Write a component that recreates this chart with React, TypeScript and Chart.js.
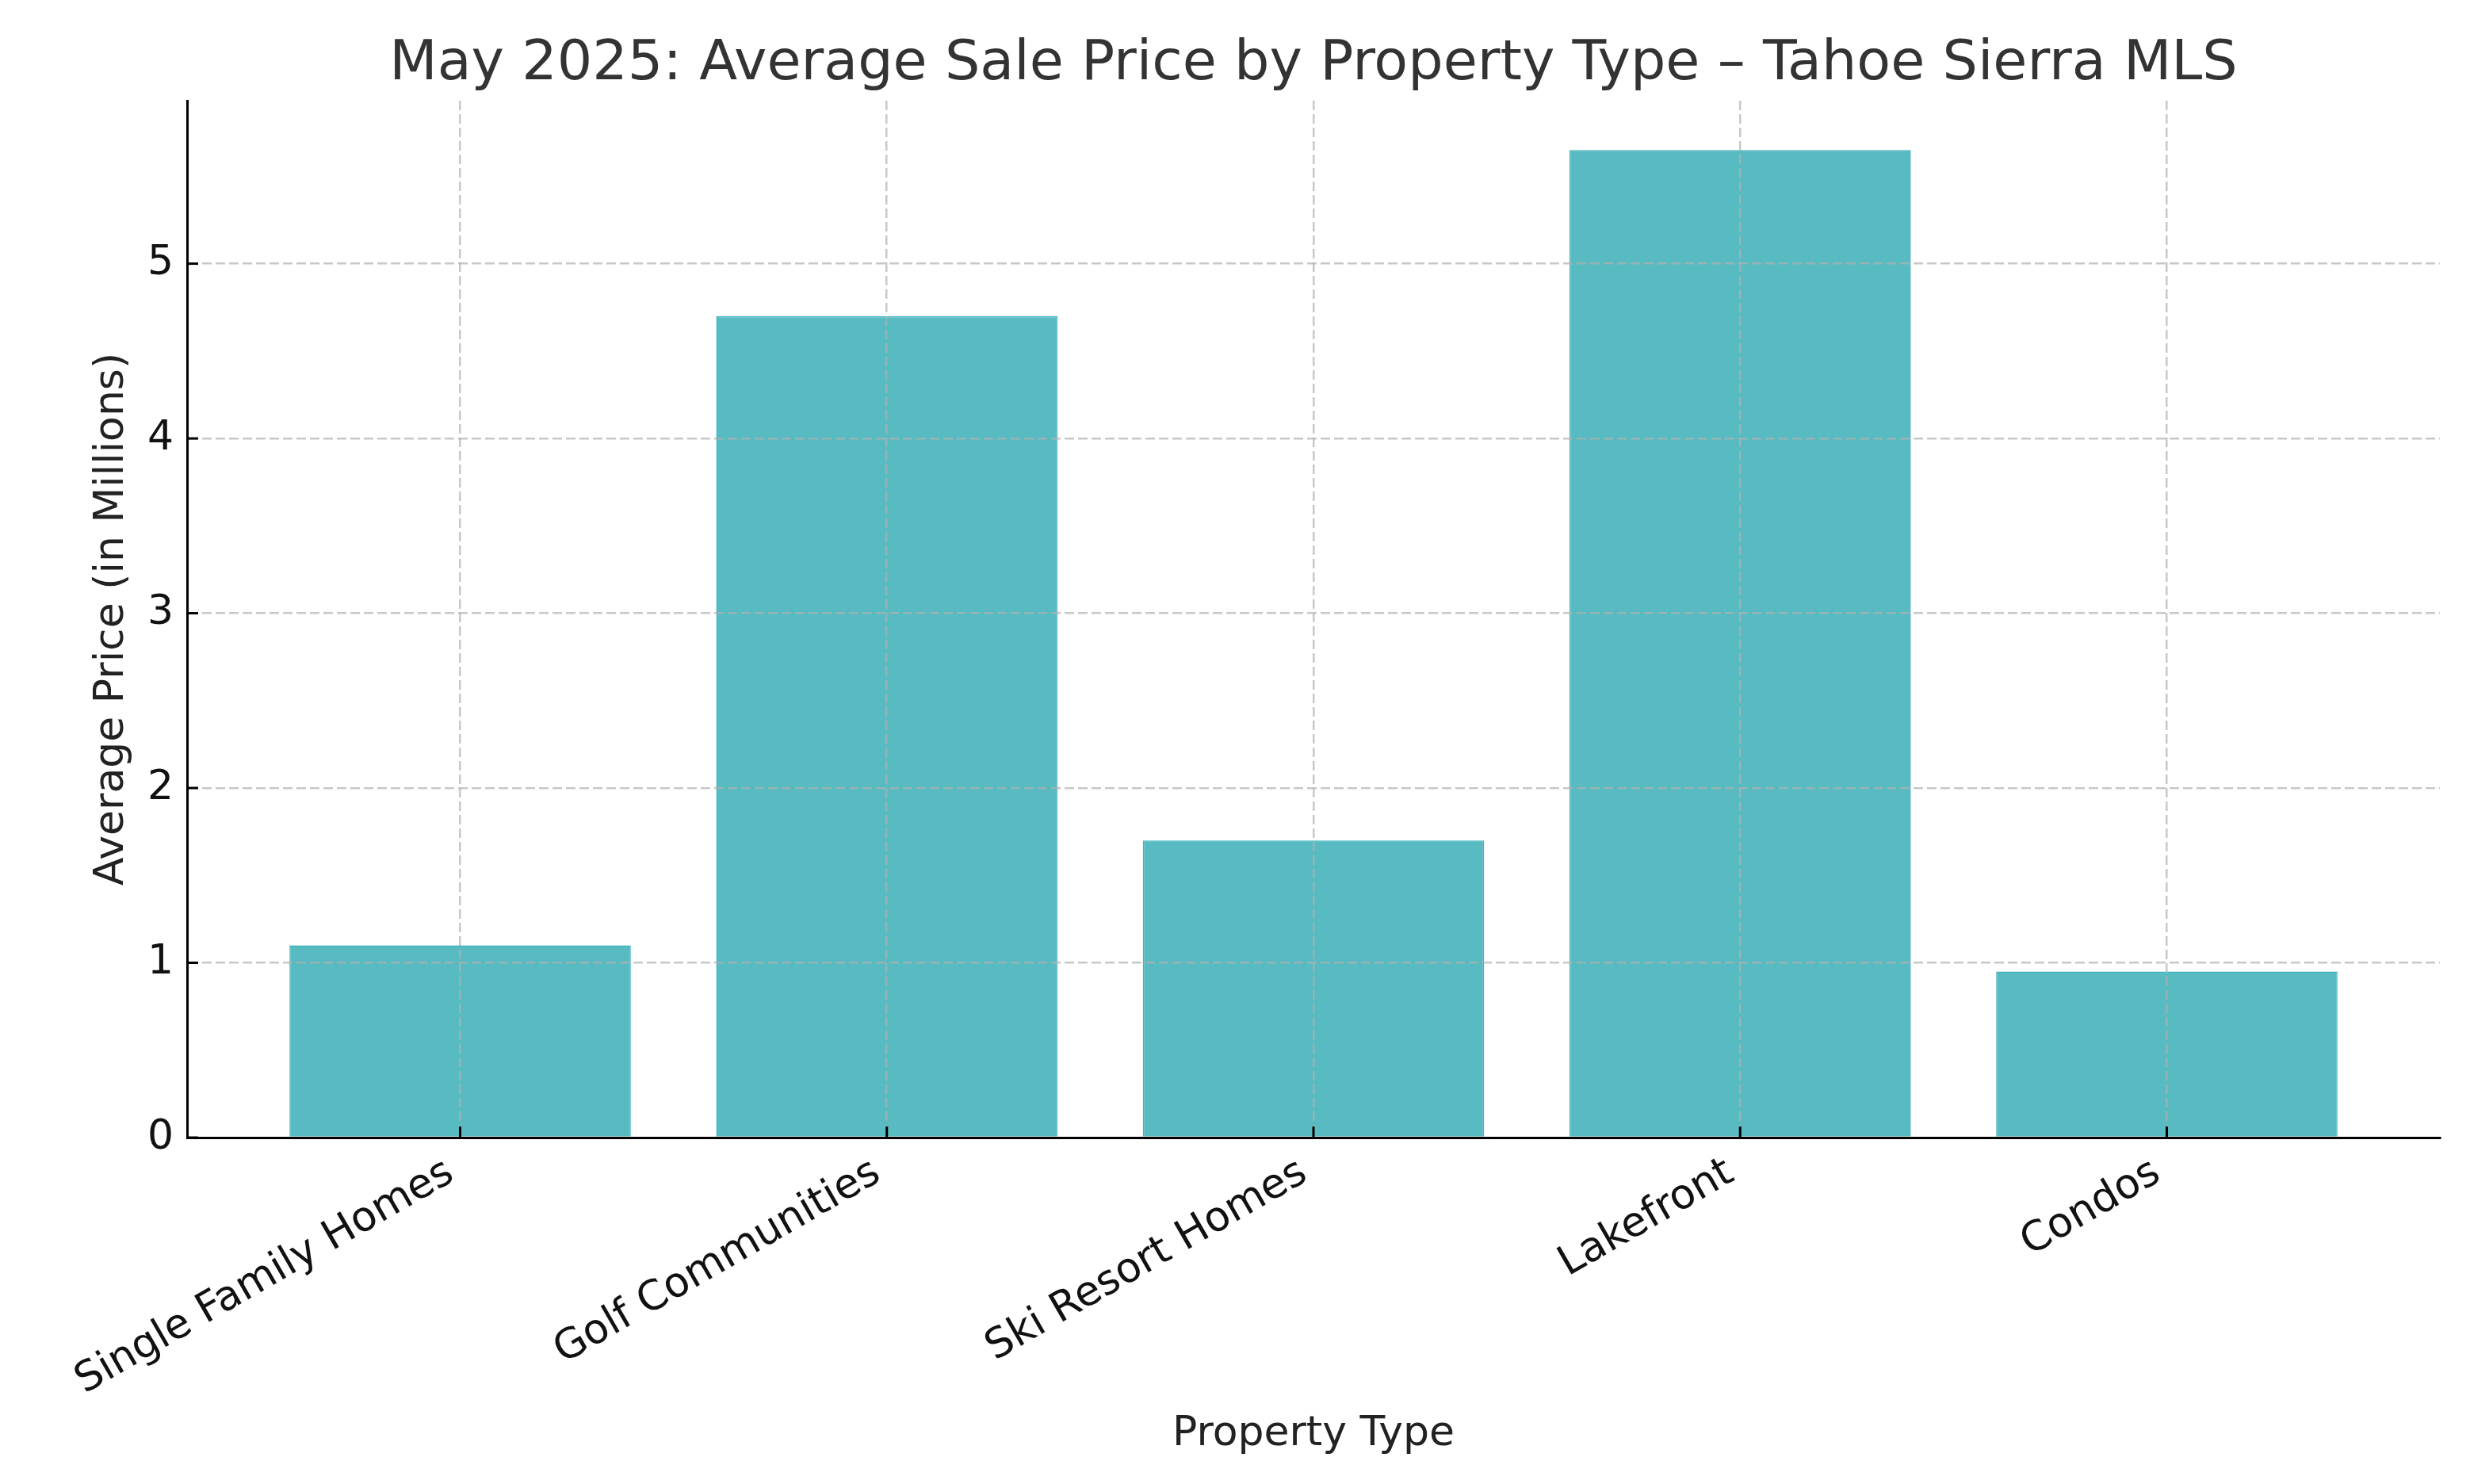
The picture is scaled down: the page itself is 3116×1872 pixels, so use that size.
import React, { useEffect, useRef } from "react";
import { Chart, registerables } from "chart.js";

Chart.register(...registerables);

const categories = ["Single Family Homes", "Golf Communities", "Ski Resort Homes", "Lakefront", "Condos"];
const avgPrice = [1.1, 4.7, 1.7, 5.65, 0.95];
const yTicks = [0, 1, 2, 3, 4, 5];

const titleText = "May 2025: Average Sale Price by Property Type \u2013 Tahoe Sierra MLS";
const xTitle = "Property Type";
const yTitle = "Average Price (in Millions)";

const FONT = "'DejaVu Sans', 'Liberation Sans', sans-serif";

const inwardTicks = {
  id: "inwardTicks",
  afterDraw(chart: any) {
    const { ctx, chartArea, scales } = chart;
    const x = scales.x;
    const y = scales.y;
    ctx.save();
    ctx.strokeStyle = "#000";
    ctx.lineWidth = 3;
    ctx.setLineDash([]);
    x.ticks.forEach((t: any) => {
      const px = x.getPixelForValue(t.value);
      ctx.beginPath();
      ctx.moveTo(px, chartArea.bottom);
      ctx.lineTo(px, chartArea.bottom - 14);
      ctx.stroke();
    });
    y.ticks.forEach((t: any) => {
      const py = y.getPixelForValue(t.value);
      ctx.beginPath();
      ctx.moveTo(chartArea.left, py);
      ctx.lineTo(chartArea.left + 14, py);
      ctx.stroke();
    });
    ctx.restore();
  },
};

export default function App() {
  const ref = useRef<HTMLCanvasElement>(null);
  useEffect(() => {
    if (!ref.current) return;
    const yMax = Math.max(...avgPrice) * 1.05;
    const xMin = -0.4 - 0.05 * (categories.length - 0.2);
    const xMax = categories.length - 1 + 0.4 + 0.05 * (categories.length - 0.2);
    const chart = new Chart(ref.current, {
      type: "bar",
      data: {
        datasets: [
          {
            label: "Average Price",
            data: avgPrice.map((v, i) => ({ x: i, y: v })),
            backgroundColor: "#57BBC1",
            borderColor: "#3FB3BB",
            borderWidth: 1.5,
            barPercentage: 0.8,
            categoryPercentage: 1,
          },
        ],
      },
      options: {
        animation: false,
        responsive: false,
        devicePixelRatio: 1,
        layout: { padding: { left: 0, right: 38, top: 0, bottom: 0 } },
        plugins: {
          legend: { display: false },
          tooltip: { enabled: false },
          title: {
            display: true,
            text: titleText,
            fullSize: false,
            color: "#333",
            font: { family: FONT, size: 70, weight: "normal" },
            padding: { top: 40, bottom: 3 },
          },
        },
        scales: {
          x: {
            type: "linear",
            min: xMin,
            max: xMax,
            offset: false,
            afterBuildTicks: (scale: any) => {
              scale.ticks = categories.map((_, i) => ({ value: i }));
            },
            afterFit: (scale: any) => {
              scale.height = 437;
            },
            ticks: {
              autoSkip: false,
              minRotation: 30,
              maxRotation: 30,
              padding: 14,
              labelOffset: -12,
              color: "#111",
              font: { family: FONT, size: 52 },
              callback: (value: any) => categories[Math.round(value)] ?? "",
            },
            grid: {
              display: true,
              drawTicks: false,
              offset: false,
              color: "rgba(176,176,176,0.7)",
              lineWidth: 2.5,
              z: 1,
            },
            border: { display: true, color: "#000", width: 3, dash: [12, 5], z: 2 },
            title: {
              display: true,
              text: xTitle,
              color: "#222",
              font: { family: FONT, size: 52 },
              padding: { top: 0, bottom: 31 },
            },
          },
          y: {
            type: "linear",
            min: 0,
            max: yMax,
            afterBuildTicks: (scale: any) => {
              scale.ticks = yTicks.map((v) => ({ value: v }));
            },
            afterFit: (scale: any) => {
              scale.width = 236;
            },
            ticks: {
              padding: 17,
              color: "#111",
              font: { family: FONT, size: 52 },
              callback: (value: any) => String(value),
            },
            grid: {
              display: true,
              drawTicks: false,
              color: "rgba(176,176,176,0.7)",
              lineWidth: 2.5,
              z: 1,
            },
            border: { display: true, color: "#000", width: 3, dash: [12, 5], z: 2 },
            title: {
              display: true,
              text: yTitle,
              color: "#222",
              font: { family: FONT, size: 52 },
              padding: { top: 110, bottom: 0 },
            },
          },
        },
      },
      plugins: [inwardTicks],
    });
    return () => chart.destroy();
  }, []);
  return (
    <div style={{ position: "absolute", left: 0, top: 0, width: 3116, height: 1872, background: "#fff" }}>
      <canvas ref={ref} width={3116} height={1872} style={{ width: 3116, height: 1872, display: "block" }} />
    </div>
  );
}
